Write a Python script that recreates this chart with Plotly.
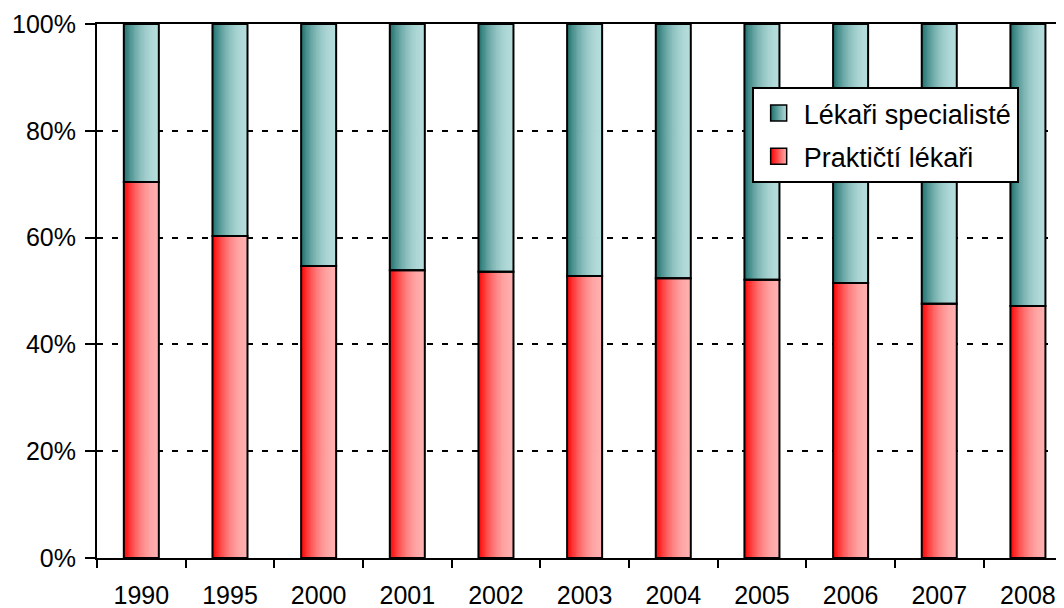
import plotly.graph_objects as go

years = ['1990', '1995', '2000', '2001', '2002', '2003', '2004', '2005', '2006', '2007', '2008']
prakticti = [70.4, 60.3, 54.7, 53.9, 53.6, 52.8, 52.4, 52.1, 51.5, 47.6, 47.2]
specialiste = [29.6, 39.7, 45.3, 46.1, 46.4, 47.2, 47.6, 47.9, 48.5, 52.4, 52.8]
name_prak = 'Praktičtí lékaři'
name_spec = 'Lékaři specialisté'

RED_L, RED_R = (255, 0, 0), (255, 175, 175)
TEAL_L, TEAL_R = (28, 112, 109), (180, 220, 219)

def mix(a, b, t):
    t = 1 - (1 - t) ** 2
    return 'rgb(%d,%d,%d)' % tuple(round(a[i] + (b[i] - a[i]) * t) for i in range(3))

FONT = 'Liberation Sans, Arial, sans-serif'
W = 0.395
N = 28
step = W / N

fig = go.Figure()
for k in range(N):
    off = -W / 2 + k * step
    wid = min(step * 1.6, W / 2 - off)
    t = (k + 0.5) / N
    fig.add_trace(go.Bar(x=years, y=prakticti, width=wid, offset=off,
                         marker=dict(color=mix(RED_L, RED_R, t), line=dict(width=0)),
                         showlegend=False, hoverinfo='skip'))
    fig.add_trace(go.Bar(x=years, y=specialiste, base=prakticti, width=wid, offset=off,
                         marker=dict(color=mix(TEAL_L, TEAL_R, t), line=dict(width=0)),
                         showlegend=False, hoverinfo='skip'))

# outlines
fig.add_trace(go.Bar(x=years, y=prakticti, width=W, offset=-W / 2, name=name_prak,
                     marker=dict(color='rgba(0,0,0,0)', line=dict(color='black', width=2)),
                     showlegend=False))
fig.add_trace(go.Bar(x=years, y=specialiste, base=prakticti, width=W, offset=-W / 2, name=name_spec,
                     marker=dict(color='rgba(0,0,0,0)', line=dict(color='black', width=2)),
                     showlegend=False))

# legend entries
fig.add_trace(go.Scatter(x=[None], y=[None], mode='markers', name=name_spec, legendgroup='a',
                         marker=dict(symbol='square', size=16, color='rgb(28,112,109)',
                                     gradient=dict(type='horizontal', color='rgb(180,220,219)'),
                                     line=dict(color='black', width=1.5))))
fig.add_trace(go.Scatter(x=[None], y=[None], mode='markers', name=name_prak, legendgroup='b',
                         marker=dict(symbol='square', size=16, color='rgb(255,0,0)',
                                     gradient=dict(type='horizontal', color='rgb(255,175,175)'),
                                     line=dict(color='black', width=1.5))))

fig.update_layout(
    width=1056, height=600,
    margin=dict(l=89, r=0, t=16, b=50),
    barmode='overlay',
    paper_bgcolor='white', plot_bgcolor='white',
    font=dict(family=FONT, size=25, color='black'),
    legend=dict(x=0.677, y=0.882, xanchor='left', yanchor='top',
                bgcolor='white', bordercolor='black', borderwidth=2,
                font=dict(size=27), tracegroupgap=5, traceorder='grouped',
                itemwidth=40),
    xaxis=dict(type='category', range=[-0.5, 10.407], tickson='boundaries',
               ticks='outside', ticklen=8, tickwidth=2, tickcolor='black',
               showline=True, linecolor='black', linewidth=2, mirror=True,
               showgrid=False, ticklabelstandoff=14, fixedrange=True),
    yaxis=dict(range=[0, 100], dtick=20, ticksuffix='%',
               ticks='outside', ticklen=10, tickwidth=2, tickcolor='black',
               showline=True, linecolor='black', linewidth=2,
               showgrid=True, gridcolor='black', gridwidth=2, griddash='6px,9px',
               zeroline=False, ticklabelstandoff=4, fixedrange=True),
)

fig.write_html('out.html')
